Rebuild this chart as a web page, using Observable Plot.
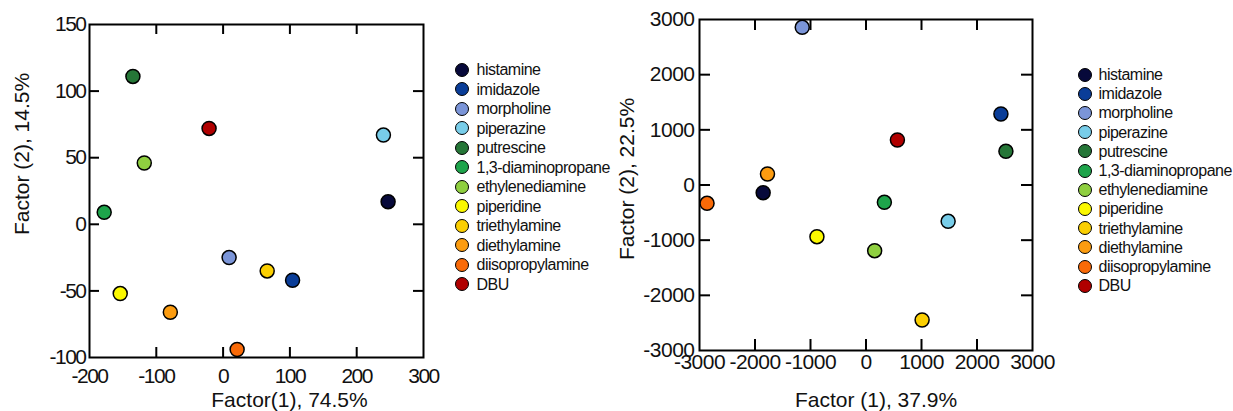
<!DOCTYPE html>
<html>
<head>
<meta charset="utf-8">
<script src="https://cdn.jsdelivr.net/npm/d3@7"></script>
<script src="https://cdn.jsdelivr.net/npm/@observablehq/plot@0.6"></script>
<style>
  html, body { margin: 0; padding: 0; background: #fff; }
  body { width: 1233px; height: 411px; position: relative; overflow: hidden; font-family: "Liberation Sans", Arial, sans-serif; }
  #left { position: absolute; left: 0; top: 0; }
  #right { position: absolute; left: 600px; top: 0; }
  #left svg { letter-spacing: -1.5px; }
  #right svg { letter-spacing: -0.5px; }
  svg g[aria-label="text"] text { letter-spacing: 0; }
  .legend { position: absolute; font-size: 16px; letter-spacing: -0.5px; color: #111; }
  .row { position: absolute; left: 0; height: 16px; line-height: 16px; white-space: nowrap; }
  .sw { position: absolute; left: 0; top: 0.5px; width: 12px; height: 12px; border: 1.5px solid #000; border-radius: 50%; }
  .lab { position: absolute; left: 22px; top: 0; }
  #legR .lab { left: 21px; }
</style>
</head>
<body>
<div id="left"></div>
<div id="right"></div>
<div id="legL" class="legend"></div>
<div id="legR" class="legend"></div>
<script>
const names = ["histamine","imidazole","morpholine","piperazine","putrescine","1,3-diaminopropane","ethylenediamine","piperidine","triethylamine","diethylamine","diisopropylamine","DBU"];
const colors = ["#07093a","#0a3d98","#7b95d8","#78cde9","#257637","#1ea44b","#8fcf40","#fbf800","#fbcf02","#fc9c10","#f96a08","#b00000"];
// Left chart (Factor 1 74.5%, Factor 2 14.5%)
const leftF1 = [247, 104, 9, 240, -135, -178, -118, -154, 66, -79, 21, -21];
const leftF2 = [17, -42, -25, 67, 111, 9, 46, -52, -35, -66, -94, 72];
// Right chart (Factor 1 37.9%, Factor 2 22.5%)
const rightF1 = [-1853, 2431, -1149, 1480, 2521, 331, 156, -884, 1011, -1775, -2864, 566];
const rightF2 = [-139, 1287, 2858, -659, 610, -314, -1190, -937, -2447, 199, -332, 816];
const leftXTicks = [-200, -100, 0, 100, 200, 300];
const leftYTicks = [-100, -50, 0, 50, 100, 150];
const rightXTicks = [-3000, -2000, -1000, 0, 1000, 2000, 3000];
const rightYTicks = [-3000, -2000, -1000, 0, 1000, 2000, 3000];

function makeChart(opt) {
  const data = names.map((n, i) => ({name: n, color: colors[i], x: opt.xs[i], y: opt.ys[i]}));
  const pw = opt.width - opt.ml - opt.mr;
  const ph = opt.height - opt.mt - opt.mb;
  const tl = opt.tickLen;
  const xin = opt.xTicks.slice(1, -1), yin = opt.yTicks.slice(1, -1);
  return Plot.plot({
    width: opt.width, height: opt.height,
    marginLeft: opt.ml, marginRight: opt.mr, marginTop: opt.mt, marginBottom: opt.mb,
    style: {fontFamily: '"Liberation Sans", Arial, sans-serif', fontSize: "21px", color: "#111", background: "transparent", overflow: "visible"},
    x: {domain: opt.xDomain, ticks: opt.xTicks, tickSize: 0, tickPadding: opt.xPad, label: null, tickFormat: d => String(d)},
    y: {domain: opt.yDomain, ticks: opt.yTicks, tickSize: 0, tickPadding: opt.yPad, label: null, tickFormat: d => String(d)},
    color: {type: "identity"},
    marks: [
      Plot.frame({stroke: "#000", strokeWidth: 2}),
      Plot.tickX(xin, {x: d => d, insetTop: ph - tl, stroke: "#000", strokeWidth: 2}),
      Plot.tickX(xin, {x: d => d, insetBottom: ph - tl, stroke: "#000", strokeWidth: 2}),
      Plot.tickY(yin, {y: d => d, insetRight: pw - tl, stroke: "#000", strokeWidth: 2}),
      Plot.tickY(yin, {y: d => d, insetLeft: pw - tl, stroke: "#000", strokeWidth: 2}),
      Plot.dot(data, {x: "x", y: "y", fill: "color", stroke: "#000", strokeWidth: 1.5, r: 7}),
      Plot.text([opt.xTitle], {text: d => d, frameAnchor: "bottom", textAnchor: "middle", lineAnchor: "middle", dx: opt.xtDx, dy: opt.xtDy, fontSize: 21, fill: "#111"}),
      Plot.text([opt.yTitle], {text: d => d, frameAnchor: "left", textAnchor: "middle", lineAnchor: "middle", dx: opt.ytDx, dy: opt.ytDy, rotate: -90, fontSize: 21, fill: "#111"})
    ]
  });
}

document.getElementById("left").appendChild(makeChart({
  width: 440, height: 411, ml: 89, mr: 17, mt: 24, mb: 54,
  xs: leftF1, ys: leftF2, xDomain: [-200, 300], yDomain: [-100, 150],
  xTicks: leftXTicks, yTicks: leftYTicks, tickLen: 10, xPad: 11, yPad: 4,
  xTitle: "Factor(1), 74.5%", yTitle: "Factor (2), 14.5%",
  xtDx: 33, xtDy: 43, ytDx: -67, ytDy: -37
}));

document.getElementById("right").appendChild(makeChart({
  width: 470, height: 411, ml: 99, mr: 38, mt: 19, mb: 61,
  xs: rightF1, ys: rightF2, xDomain: [-3000, 3000], yDomain: [-3000, 3000],
  xTicks: rightXTicks, yTicks: rightYTicks, tickLen: 11, xPad: 4, yPad: 5,
  xTitle: "Factor (1), 37.9%", yTitle: "Factor (2), 22.5%",
  xtDx: 10, xtDy: 50, ytDx: -72, ytDy: -6
}));

function legend(id, left, top, step) {
  const el = document.getElementById(id);
  el.style.left = left + "px";
  el.style.top = top + "px";
  names.forEach((n, i) => {
    const row = document.createElement("div");
    row.className = "row";
    row.style.top = (i * step) + "px";
    const sw = document.createElement("span");
    sw.className = "sw";
    sw.style.background = colors[i];
    const lab = document.createElement("span");
    lab.className = "lab";
    lab.textContent = n;
    row.appendChild(sw); row.appendChild(lab);
    el.appendChild(row);
  });
}
legend("legL", 454.5, 62, 19.5);
legend("legR", 1077.5, 67, 19.2);
</script>
</body>
</html>
